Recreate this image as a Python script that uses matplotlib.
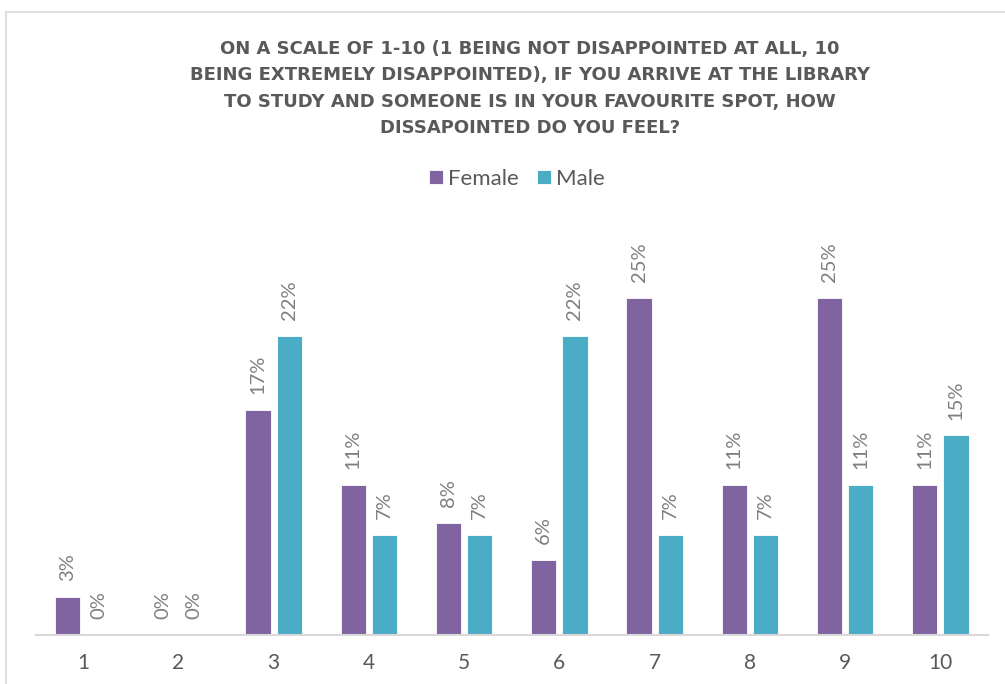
import numpy as np
import matplotlib.pyplot as plt
from matplotlib.patches import Rectangle

categories = ["1", "2", "3", "4", "5", "6", "7", "8", "9", "10"]
female = [2.8, 0, 16.7, 11.1, 8.3, 5.6, 25.0, 11.1, 25.0, 11.1]
male = [0, 0, 22.2, 7.4, 7.4, 22.2, 7.4, 7.4, 11.1, 14.8]
series_names = ["Female", "Male"]

title = ("ON A SCALE OF 1-10 (1 BEING NOT DISAPPOINTED AT ALL, 10\n"
         "BEING EXTREMELY DISAPPOINTED), IF YOU ARRIVE AT THE LIBRARY\n"
         "TO STUDY AND SOMEONE IS IN YOUR FAVOURITE SPOT, HOW\n"
         "DISSAPOINTED DO YOU FEEL?")

purple = "#8064A2"
teal = "#4BACC6"
dark = "#595959"
light = "#7F7F7F"

plt.rcParams['font.family'] = ['Lato', 'DejaVu Sans']

W, H = 1005, 684
fig = plt.figure(figsize=(W / 100, H / 100), dpi=100)

# chart frame (cropped at the right and bottom)
fig.patches.append(Rectangle((6 / W, -0.1), 1.2, 1 - 12 / H + 0.1,
                             transform=fig.transFigure, fill=False,
                             edgecolor="#D9D9D9", linewidth=1.2))

ax = fig.add_axes([35.5 / W, 49 / H, 952.5 / W, 404.4 / H])

x = np.arange(len(categories))
bw = 0.265
off = 0.163
b1 = ax.bar(x - off, female, bw, color=purple, edgecolor="white", linewidth=0.6, label=series_names[0])
b2 = ax.bar(x + off, male, bw, color=teal, edgecolor="white", linewidth=0.6, label=series_names[1])

for bars, vals in ((b1, female), (b2, male)):
    for rect, v in zip(bars, vals):
        ax.annotate(f"{v:.0f}%", (rect.get_x() + rect.get_width() / 2, v),
                    xytext=(0, 11.5), textcoords="offset points",
                    rotation=90, ha="center", va="bottom",
                    fontsize=14.5, color=light)

ax.set_xlim(-0.5, len(categories) - 0.5)
ax.set_ylim(0, 30)
ax.set_xticks(x)
ax.set_xticklabels(categories, fontsize=15, color=dark)
ax.tick_params(axis="x", length=0, pad=13)
ax.set_yticks([])
for s in ("top", "left", "right"):
    ax.spines[s].set_visible(False)
ax.spines["bottom"].set_color("#D9D9D9")
ax.spines["bottom"].set_linewidth(1.5)

fig.text(530 / W, 1 - 88.5 / H, title, ha="center", va="center",
         fontsize=13, fontweight="bold", color=dark, linespacing=1.58,
         family=['DejaVu Sans'])

fig.legend(handles=[b1, b2], labels=series_names, loc="center",
           bbox_to_anchor=(517 / W, 1 - 179 / H), ncol=2, frameon=False,
           fontsize=16, handlelength=0.62, handleheight=0.62,
           handletextpad=0.25, columnspacing=0.8, labelcolor=dark)

fig.savefig("out.png", dpi=100)
